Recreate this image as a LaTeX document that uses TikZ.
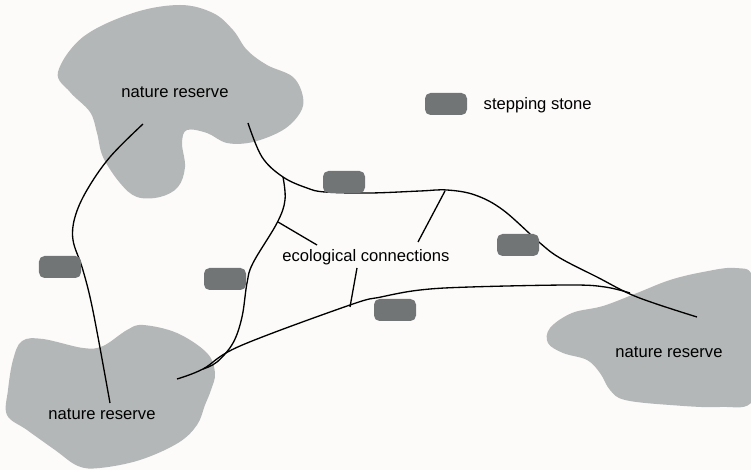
\documentclass[tikz,border=0pt]{standalone}
\usepackage{fontspec}
\setmainfont{Liberation Sans}
\usetikzlibrary{positioning}
\definecolor{paper}{RGB}{252,251,250}
\definecolor{reserve}{RGB}{180,183,183}
\definecolor{stonegray}{RGB}{113,117,118}

\begin{document}
\begin{tikzpicture}[x=0.2mm,y=-0.2mm,
  stone/.style={fill=stonegray,rounded corners=1.1mm,minimum width=8.4mm,minimum height=4.4mm,inner sep=0pt},
  lbl/.style={inner sep=0pt,font=\fontsize{9.45}{11}\selectfont},
  corridor/.style={line width=0.75pt,smooth,tension=0.6}]
  \useasboundingbox[fill=paper] (0,0) rectangle (751,470);
  % reserves
  \fill[reserve] plot[smooth cycle,tension=0.6] coordinates {(58,72) (83,37) (133,13) (180,5) (213,13) (233,30)
    (247,50) (267,65) (293,77) (303,97) (300,113) (283,130) (253,142) (227,143) (207,133) (187,130)
    (182,143) (185,167) (178,187) (160,197) (137,197) (120,183) (103,157) (97,133) (90,112) (70,92)};
  \fill[reserve] plot[smooth cycle,tension=0.6] coordinates {(13,360) (22,341) (43,339) (83,348) (103,346)
    (127,330) (143,325) (177,333) (207,353) (215,373) (211,390) (205,405) (197,425) (178,443) (140,460)
    (100,468) (78,466) (55,450) (27,430) (7,415) (8,390)};
  \fill[reserve] plot[smooth cycle,tension=0.6] coordinates {(550,328) (572,313) (603,306) (637,293) (670,280)
    (703,272) (735,268) (753,278) (755,340) (753,400) (720,407) (670,405) (625,400) (610,390) (600,373)
    (587,360) (563,353) (548,343)};
  \node[lbl] (nrtop) at (175,92) {nature reserve};
  \node[lbl] (nrleft) at (102,414) {nature reserve};
  \node[lbl] (nrright) at (669,352) {nature reserve};
  % corridors
  \draw[corridor] plot coordinates {(143,124) (110,157) (87,190) (75,217) (73,240) (82,267) (90,297) (98,337) (110,403)};
  \draw[corridor] plot coordinates {(248,123) (262,157) (283,177) (307,188) (325,192) (370,193) (420,191)
    (447,190) (475,195) (503,210) (540,243) (560,258) (597,277) (637,297) (697,317)};
  \draw[corridor] plot coordinates {(283,177) (285,200) (277,223) (253,263) (247,283) (242,317) (233,343)
    (217,362) (203,369)};
  \draw[corridor] plot coordinates {(177,379) (203,369) (240,346) (350,305) (381,297) (420,290) (470,287)
    (570,285) (605,287) (630,293)};
  % labels
  \node[lbl] (conn) at (366,257) {ecological connections};
  \coordinate (j1) at (278,222);
  \coordinate (j2) at (445,191);
  \coordinate (j3) at (350,307);
  \coordinate (t1) at (317,245);
  \coordinate (t2) at (418,242);
  \coordinate (t3) at (357,268);
  \draw[line width=0.75pt] (j1) -- (t1);
  \draw[line width=0.75pt] (j2) -- (t2);
  \draw[line width=0.75pt] (j3) -- (t3);
  % stepping stones
  \node[stone] (s1) at (60,267) {};
  \node[stone] (s2) at (225,279) {};
  \node[stone] (s3) at (344,182) {};
  \node[stone] (s4) at (395,310) {};
  \node[stone] (s5) at (518,245) {};
  \node[stone] (key) at (446,104) {};
  \node[lbl,right=3.2mm of key,yshift=-0.3mm] (keytxt) {stepping stone};
\end{tikzpicture}
\end{document}
